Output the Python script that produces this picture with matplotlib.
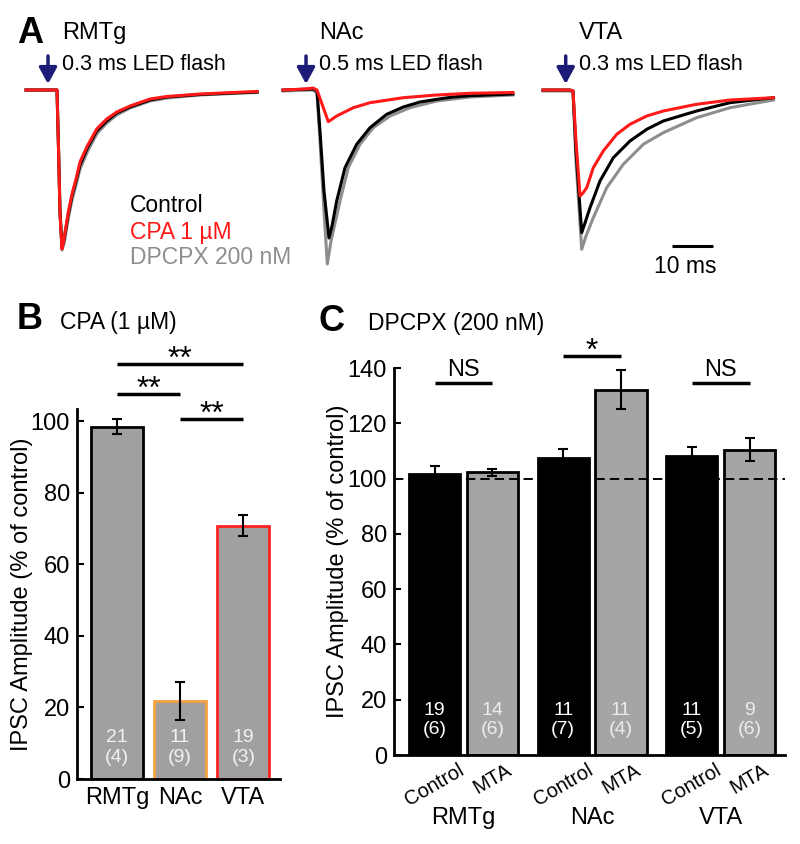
import matplotlib
matplotlib.use('Agg')
import matplotlib.pyplot as plt
import matplotlib.transforms as mtransforms
import numpy as np

plt.rcParams['font.family'] = ['Liberation Sans', 'DejaVu Sans']

W, H = 800, 844

# ---------------- panel A: example traces (ms from flash, amplitude) ----------------
rmtg_t = [-7.45, 0, 0.36, 0.72, 1.2, 1.68, 2.72, 3.61, 4.57, 5.53, 7.28, 9.54,
          11.95, 14.35, 17.55, 22.36, 26.44, 34.38, 42.3, 48.1]
rmtg_gray = [0, 0, -56, -120, -160, -154, -128, -110, -95, -79, -62, -44,
             -33, -25, -18, -11, -8, -5, -3.5, -2.5]
rmtg_black = [0, 0, -58, -122, -157, -150, -124, -106, -91, -75, -58, -41,
              -31, -23, -17, -10, -7, -4.5, -3, -2]
rmtg_red = [0, 0, -59, -124, -159, -149, -122, -104, -89, -72, -56, -39,
            -29, -22, -16, -9, -6.5, -4, -2.5, -1.5]

nac_gray_t = [-8.17, -0.96, 0, 0.72, 1.68, 2.48, 3.37, 5.53, 7.52, 10.34, 13.53,
              17.55, 22.36, 28.77, 36.78, 47.1]
nac_gray = [-1, 0, -3, -51, -121, -174, -151, -111, -77.7, -54.3, -37.7,
            -26, -17.7, -11, -7, -5]
nac_black_t = [-8.17, -0.96, 0, 0.72, 1.68, 2.88, 3.61, 4.73, 6.73, 9.54, 12.74,
               16.75, 20.75, 24.76, 28.77, 32.7, 36.78, 47.1]
nac_black = [0, 1, -1, -41, -101, -148, -136, -111, -77.7, -54.3, -37.7,
             -24.3, -17, -12, -9.3, -7, -5.7, -4]
nac_red_t = [-8.17, -2.88, -0.96, 0, 1.2, 2.72, 4.73, 8.73, 12.74, 20.75, 28.77,
             36.78, 47.1]
nac_red = [0, 1, 2, 0, -14, -31.7, -26, -17.7, -12.7, -7.7, -5, -3.3, -2.5]

vta_gray_t = [-7.21, -0.72, 0, 0.72, 2.09, 3.13, 4.88, 8.1, 12.09, 16.9, 21.7,
              29.7, 37.74, 48.2]
vta_gray = [-1, -1, -2, -71, -159.3, -146, -127.7, -97.7, -74.3, -54.3, -42.7,
            -27.7, -17.7, -10]
vta_black_t = [-7.21, -0.72, 0, 0.72, 2.09, 2.88, 4.09, 6.49, 9.69, 13.7, 17.72,
               21.7, 29.7, 37.74, 48.2]
vta_black = [0, 0, -1, -61, -142.7, -133, -117.7, -91, -67.7, -51, -39.3,
             -31, -21, -12.7, -7.7]
vta_red_t = [-7.21, -0.72, 0, 0.72, 1.68, 2.4, 3.29, 4.88, 7.28, 10.5, 13.7,
             17.72, 21.7, 29.7, 37.74, 48.2]
vta_red = [0, 0, -1, -51, -106, -103, -97.7, -77.7, -61, -44.3, -34.3,
           -26, -21, -14.3, -10, -7.7]

trace_regions = ['RMTg', 'NAc', 'VTA']
flash_labels = ['0.3 ms LED flash', '0.5 ms LED flash', '0.3 ms LED flash']
arrow_t = [-2.16, -2.64, -1.75]

# ---------------- panel B: CPA ----------------
b_regions = ['RMTg', 'NAc', 'VTA']
b_values = [98.5, 21.8, 70.8]
b_err = [2.0, 5.3, 2.9]
b_cells = [21, 11, 19]
b_mice = [4, 9, 3]
b_edges = ['black', '#f5a142', '#ff2020']
b_sig = [(0, 2, 116.0, '**'), (0, 1, 107.6, '**'), (1, 2, 100.5, '**')]

# ---------------- panel C: DPCPX ----------------
c_regions = ['RMTg', 'NAc', 'VTA']
c_control = [101.5, 107.3, 108.2]
c_control_err = [3.0, 3.5, 3.4]
c_mta = [102.2, 132.1, 110.4]
c_mta_err = [1.3, 7.0, 4.1]
c_cells_control = [19, 11, 11]
c_mice_control = [6, 7, 5]
c_cells_mta = [14, 11, 9]
c_mice_mta = [6, 4, 6]
c_sig = [(0, 134.7, 'NS'), (1, 144.5, '*'), (2, 134.7, 'NS')]

RED = '#ff1a1a'
GRAY = '#8e8e8e'
NAVY = '#1c1c78'

fig = plt.figure(figsize=(W / 100, H / 100), dpi=100)


def px_axes(left, top, width, height):
    return fig.add_axes([left / W, 1 - (top + height) / H, width / W, height / H])


def px_text(x, y, s, **kw):
    return fig.text(x / W, 1 - y / H, s, **kw)


# ---- A ----
PX_MS = 4.16
trace_sets = [
    [(rmtg_t, rmtg_gray), (rmtg_t, rmtg_black), (rmtg_t, rmtg_red)],
    [(nac_gray_t, nac_gray), (nac_black_t, nac_black), (nac_red_t, nac_red)],
    [(vta_gray_t, vta_gray), (vta_black_t, vta_black), (vta_red_t, vta_red)],
]
flash_x = [57, 317, 573]
for k, traces in enumerate(trace_sets):
    ax = px_axes(flash_x[k] - 9 * PX_MS, 75, 61 * PX_MS, 200)
    ax.set_xlim(-9, 52)
    ax.set_ylim(-185, 15)
    ax.axis('off')
    for (t, y), col in zip(traces, [GRAY, 'black', RED]):
        ax.plot(t, y, color=col, lw=2.2, solid_joinstyle='round', clip_on=False)
    ax.annotate('', xy=(arrow_t[k], 6), xytext=(arrow_t[k], 34),
                arrowprops=dict(arrowstyle='-|>,head_length=0.55,head_width=0.3',
                                color=NAVY, lw=2.5, mutation_scale=18,
                                shrinkA=0, shrinkB=0),
                annotation_clip=False)
    if k == 2:
        ax.plot([23.7, 33.7], [-156, -156], color='black', lw=2.2,
                solid_capstyle='butt', clip_on=False)
        ax.text(27, -183, '10 ms', ha='center', va='baseline', fontsize=16.5)

px_text(17, 43, 'A', fontsize=26, fontweight='bold', va='baseline')
for k in range(3):
    x_lab = [62, 319, 579][k]
    px_text(x_lab, 39, trace_regions[k], fontsize=17, va='baseline')
    px_text(x_lab, 70, flash_labels[k], fontsize=15.5, va='baseline')

px_text(130, 212, 'Control', fontsize=16.5, color='black', va='baseline')
px_text(130, 239, 'CPA 1 µM', fontsize=16.5, color=RED, va='baseline')
px_text(130, 264, 'DPCPX 200 nM', fontsize=16.5, color=GRAY, va='baseline')


def style_axes(ax):
    for s in ['top', 'right']:
        ax.spines[s].set_visible(False)
    for s in ['left', 'bottom']:
        ax.spines[s].set_linewidth(2)
    ax.tick_params(axis='y', direction='in', length=5, width=1.5,
                   labelsize=17, pad=5)
    ax.tick_params(axis='x', length=0)


# ---- B ----
ax_b = px_axes(77, 409, 203, 370)
xb = np.arange(len(b_regions))
ax_b.bar(xb, b_values, width=0.82, color='#a0a0a0', edgecolor=b_edges,
         linewidth=2, zorder=2)
ax_b.errorbar(xb, b_values, yerr=b_err, fmt='none', ecolor='black',
              elinewidth=1.5, capsize=3.5, capthick=1.5, zorder=3)
ax_b.set_xlim(-0.63, 2.58)
ax_b.set_ylim(0, 103.4)
ax_b.set_yticks(range(0, 101, 20))
ax_b.set_xticks(xb)
ax_b.set_xticklabels(b_regions, fontsize=17)
ax_b.tick_params(axis='x', pad=6)
style_axes(ax_b)
ax_b.set_ylabel('IPSC Amplitude (% of control)', fontsize=17)
ax_b.yaxis.set_label_coords(-0.215, 0.5)
for i in range(len(b_regions)):
    ax_b.text(xb[i], 8.8, f'{b_cells[i]}\n({b_mice[i]})', ha='center',
              va='center', color='#f2f2f2', fontsize=14, linespacing=1.2,
              zorder=4)
for i, j, h, lab in b_sig:
    ax_b.plot([i, j], [h, h], color='black', lw=2.5, clip_on=False,
              solid_capstyle='butt')
    ax_b.text((i + j) / 2, h - 1.0, lab, ha='center', va='baseline',
              fontsize=23, clip_on=False)

px_text(17, 329, 'B', fontsize=26, fontweight='bold', va='baseline')
px_text(60, 329, 'CPA (1 µM)', fontsize=16.5, va='baseline')

# ---- C ----
ax_c = px_axes(394, 368, 391, 387)
xc = np.arange(len(c_regions))
off = 0.225
bw = 0.397
ax_c.bar(xc - off, c_control, width=bw, color='black', edgecolor='black',
         linewidth=2, zorder=2)
ax_c.bar(xc + off, c_mta, width=bw, color='#a5a5a5', edgecolor='black',
         linewidth=2, zorder=2)
ax_c.axhline(100, color='black', lw=1.4, ls=(0, (4.8, 2.6)), zorder=3)
ax_c.errorbar(xc - off, c_control, yerr=c_control_err, fmt='none',
              ecolor='black', elinewidth=1.5, capsize=3.5, capthick=1.5, zorder=4)
ax_c.errorbar(xc + off, c_mta, yerr=c_mta_err, fmt='none',
              ecolor='black', elinewidth=1.5, capsize=3.5, capthick=1.5, zorder=4)
ax_c.set_xlim(-0.54, 2.50)
ax_c.set_ylim(0, 140)
ax_c.set_yticks(range(0, 141, 20))
tick_pos = np.ravel(np.column_stack([xc - off, xc + off]))
ax_c.set_xticks(tick_pos)
ax_c.set_xticklabels(['Control', 'MTA'] * len(c_regions), rotation=30,
                     ha='center', fontsize=14.5)
ax_c.tick_params(axis='x', pad=4)
style_axes(ax_c)
ax_c.set_ylabel('IPSC Amplitude (% of control)', fontsize=17)
ax_c.yaxis.set_label_coords(-0.115, 0.5)

trans = mtransforms.blended_transform_factory(ax_c.transData, ax_c.transAxes)
for i, reg in enumerate(c_regions):
    ax_c.text(xc[i], -0.162, reg, transform=trans, ha='center', va='center',
              fontsize=17)
    ax_c.text(xc[i] - off, 12.7, f'{c_cells_control[i]}\n({c_mice_control[i]})',
              ha='center', va='center', color='white', fontsize=14,
              linespacing=1.2, zorder=5)
    ax_c.text(xc[i] + off, 12.7, f'{c_cells_mta[i]}\n({c_mice_mta[i]})',
              ha='center', va='center', color='#ececec', fontsize=14,
              linespacing=1.2, zorder=5)
for i, h, lab in c_sig:
    ax_c.plot([xc[i] - off, xc[i] + off], [h, h], color='black', lw=2.5,
              clip_on=False, solid_capstyle='butt')
    if lab == '*':
        ax_c.text(xc[i], h - 1.5, lab, ha='center', va='baseline',
                  fontsize=23, clip_on=False)
    else:
        ax_c.text(xc[i], h + 2.5, lab, ha='center', va='baseline',
                  fontsize=17, clip_on=False)

px_text(319, 331, 'C', fontsize=26, fontweight='bold', va='baseline')
px_text(368, 330, 'DPCPX (200 nM)', fontsize=16.5, va='baseline')

fig.savefig('out.png', dpi=100)
